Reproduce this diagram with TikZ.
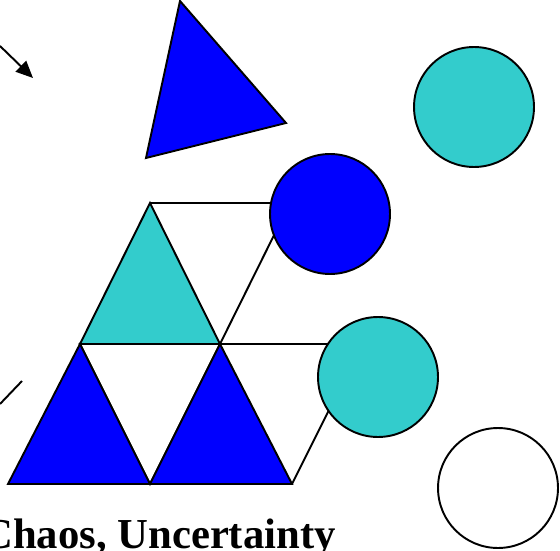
\documentclass[tikz,border=0pt]{standalone}
\usepackage{fontspec}
\setmainfont{Liberation Serif}
\usepackage{tikz}
\usetikzlibrary{arrows.meta}
\definecolor{ShapeBlue}{HTML}{0000FF}
\definecolor{ShapeCyan}{HTML}{33CCCC}
\tikzset{
    % outlined shapes
    tile/.style={
        draw=black,
        line width=1.1pt,
        line join=miter
    },
    tile blue/.style={
        tile,
        fill=ShapeBlue
    },
    tile cyan/.style={
        tile,
        fill=ShapeCyan
    },
    disc/.style={
        circle,
        draw=black,
        line width=1.1pt,
        fill=white,
        minimum size=2.4cm,
        inner sep=0pt
    },
    disc blue/.style={
        disc,
        fill=ShapeBlue
    },
    disc cyan/.style={
        disc,
        fill=ShapeCyan
    },
    arrow style/.style={
        -{Triangle[length=0.34cm,width=0.3cm]},
        line width=1.1pt,
        black
    },
    plain line/.style={
        line width=1.1pt,
        black
    }
}

\begin{document}
\begin{tikzpicture}[x=0.02cm, y=-0.02cm]
        \clip (0,0) rectangle (560,550);

        % Lattice corners
        \coordinate (a) at (150,203);
        \coordinate (b) at (80,344);
        \coordinate (c) at (220,344);
        \coordinate (d) at (8,484);
        \coordinate (e) at (150,484);
        \coordinate (f) at (292,484);
        \coordinate (g) at (290,203);
        \coordinate (h) at (362,344);

        % Open parallelograms
        \draw[plain line] (a) -- (g) -- (c);
        \draw[plain line] (c) -- (h) -- (f);

        % Triangles
        \draw[tile cyan] (a) -- (b) -- (c) -- cycle;
        \draw[tile] (b) -- (c) -- (e) -- cycle;
        \draw[tile blue] (b) -- (d) -- (e) -- cycle;
        \draw[tile blue] (c) -- (e) -- (f) -- cycle;

        % Loose triangle at top
        \draw[tile blue] (180,1) -- (286,123) -- (146,158) -- cycle;

        % Circles
        \node[disc blue] (c1) at (330,214) {};
        \node[disc cyan] (c2) at (378,377) {};
        \node[disc cyan] (c3) at (474,107) {};
        \node[disc] (c4) at (498,488) {};

        % Strokes at the left edge
        \coordinate (p1) at (0,46);
        \coordinate (p2) at (33,78);
        \draw[arrow style] (p1) -- (p2);
        \coordinate (q1) at (0,404);
        \coordinate (q2) at (22,381);
        \draw[plain line] (q1) -- (q2);

        % Caption
        \node[anchor=base west, inner sep=0pt, font=\fontsize{24.3}{28}\selectfont\bfseries] (cap) at (-18,548.5) {Chaos, Uncertainty};
    \end{tikzpicture}
\end{document}
